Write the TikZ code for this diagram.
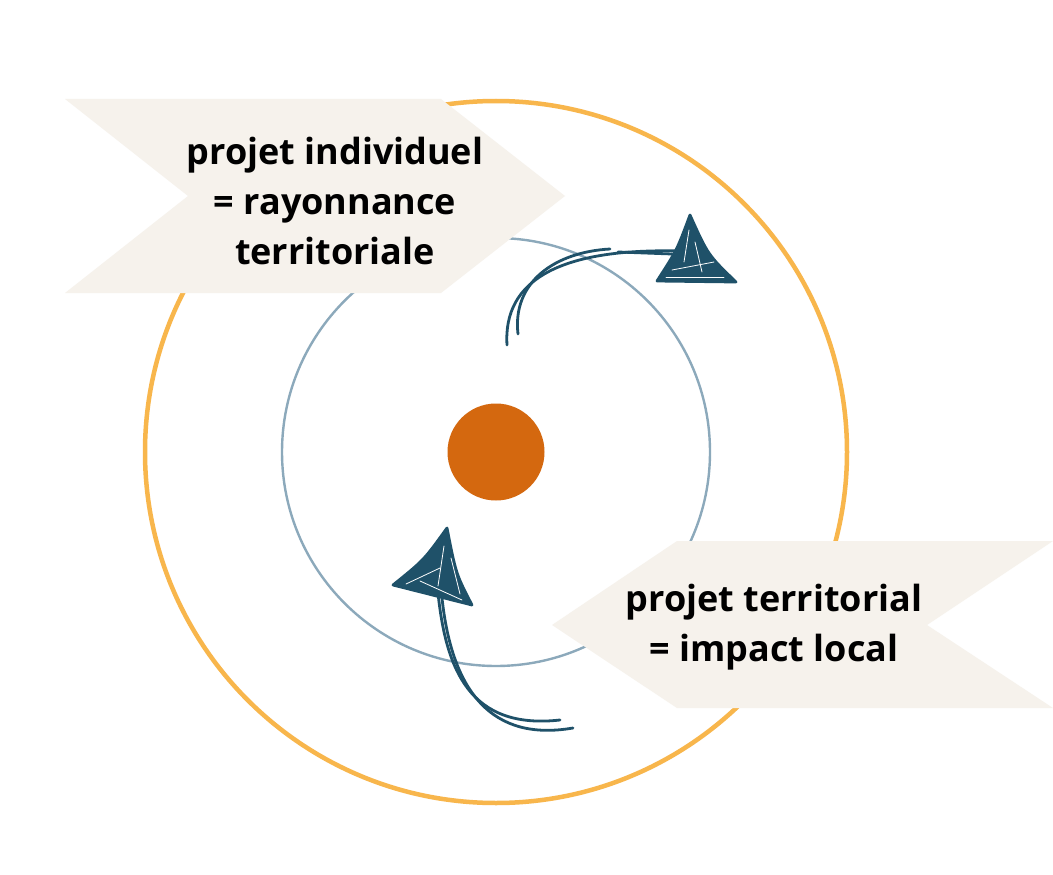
\documentclass[tikz,border=0pt]{standalone}
\usepackage{fontspec}
\setmainfont{Open Sans}
\definecolor{ringO}{HTML}{F8B64C}
\definecolor{ringB}{HTML}{8CA9BB}
\definecolor{dotO}{HTML}{D4680F}
\definecolor{banner}{HTML}{F6F2EC}
\definecolor{arrowC}{HTML}{1F5169}
\begin{document}
\begin{tikzpicture}[x=1pt,y=-1pt,
  ring/.style={line width=#1},
  bannerfill/.style={fill=banner,draw=none},
  label/.style={font=\bfseries\fontsize{36}{50}\selectfont,align=center,text=black,inner sep=0pt},
  sketch/.style={draw=arrowC,line width=2.8pt,line cap=round,line join=round},
  headfill/.style={fill=arrowC,draw=arrowC,line width=2.8pt,line join=round},
  scribble/.style={draw=white,line width=0.8pt,line cap=round}]
\useasboundingbox (0,0) rectangle (1053,875);
\fill[white] (0,0) rectangle (1053,875);
% circles
\coordinate (c) at (496,452);
\draw[ring=4.5pt,draw=ringO] (c) circle[radius=351];
\draw[ring=2.4pt,draw=ringB] (c) circle[radius=214];
\node[circle,fill=dotO,minimum size=97pt,inner sep=0pt] (dot) at (c) {};
% banners
\path[bannerfill] (65,99) -- (441,99) -- (565,196) -- (441,293) -- (65,293) -- (188,196) -- cycle;
\path[bannerfill] (552,625) -- (677,541) -- (1053,541) -- (927,625) -- (1053,708) -- (677,708) -- cycle;
\node[label] (t1) at (335,201) {projet individuel\\= rayonnance\\territoriale};
\node[label] (t2) at (774,627) {projet territorial\\= impact local};
% arrow 1
\coordinate (a1s) at (507,345);
\coordinate (a1b) at (518,334);
\coordinate (a1e) at (680,251);
\coordinate (a1t) at (690,215);
\coordinate (a1l) at (657,281);
\coordinate (a1r) at (736,282);
\draw[sketch] (a1s) .. controls (503,280) and (560,248) .. (a1e);
\draw[sketch] (a1b) .. controls (512,282) and (555,252) .. (610,249);
\draw[sketch] (618,252) -- (672,254);
\draw[headfill] (a1t) .. controls (677,250) .. (a1l) -- (a1r) .. controls (708,255) .. cycle;
\draw[scribble] (689,230) -- (684,262);
\draw[scribble] (695,242) -- (702,272);
\draw[scribble] (672,270) -- (714,262);
\draw[scribble] (666,277) -- (724,277);
% arrow 2
\coordinate (a2t) at (447,528);
\coordinate (a2l) at (393,585);
\coordinate (a2r) at (472,605);
\coordinate (a2b) at (438,593);
\coordinate (a2s) at (560,720);
\coordinate (a2s2) at (573,728);
\draw[sketch] (a2b) .. controls (446,670) and (470,730) .. (a2s);
\draw[sketch] (442,598) .. controls (452,692) and (492,742) .. (a2s2);
\draw[headfill] (a2t) .. controls (424,560) .. (a2l) -- (a2r) .. controls (456,574) .. cycle;
\draw[scribble] (444,546) -- (438,586);
\draw[scribble] (451,558) -- (460,594);
\draw[scribble] (406,584) -- (440,568);
\draw[scribble] (420,581) -- (462,600);
\end{tikzpicture}
\end{document}
